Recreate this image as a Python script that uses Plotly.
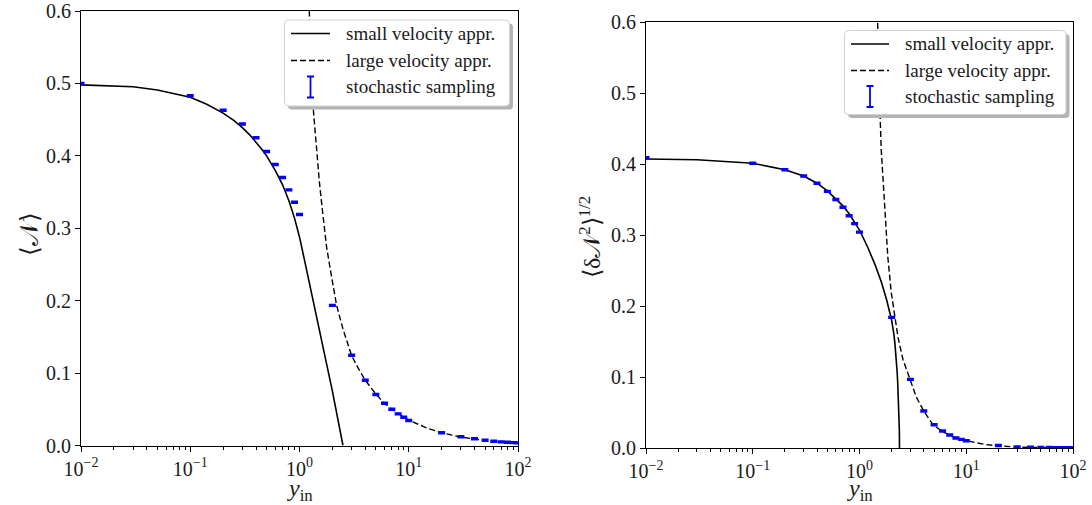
import plotly.graph_objects as go

W, H = 1092, 505

# ---------------- data ----------------
# left panel: <N>
small_x_L = [0.01, 0.02, 0.03, 0.05, 0.07, 0.1, 0.14, 0.2, 0.25, 0.3, 0.35, 0.4, 0.45, 0.5, 0.6, 0.7, 0.8, 0.9, 1.0,
             1.1, 1.2, 1.3, 1.4, 1.5, 1.6, 1.7, 1.8, 1.9, 2.0, 2.1, 2.2, 2.3, 2.4, 2.5]
small_y_L = [0.498, 0.497, 0.4955, 0.491, 0.4865, 0.481, 0.4715, 0.459, 0.449, 0.439, 0.429, 0.419, 0.4095, 0.400,
             0.380, 0.360, 0.338, 0.314, 0.288, 0.259, 0.233, 0.209, 0.186, 0.165, 0.145, 0.126, 0.108, 0.091,
             0.075, 0.059, 0.044, 0.0285, 0.0125, 0.0]

large_x_L = [1.17, 1.22, 1.27, 1.34, 1.42, 1.52, 1.62, 1.77, 1.95, 2.19, 2.5, 3.0, 3.5, 4.0, 5.0, 6.0, 7.0, 8.0,
             10.0, 15.0, 20.0, 30.0, 50.0, 70.0, 100.0]
large_y_L = [0.70, 0.60, 0.535, 0.463, 0.415, 0.364, 0.325, 0.274, 0.236, 0.193, 0.161, 0.124, 0.105, 0.090,
             0.071, 0.058, 0.050, 0.044, 0.035, 0.0235, 0.0175, 0.0117, 0.0070, 0.0050, 0.0035]

stoch_x = [0.01, 0.1, 0.2, 0.3, 0.4, 0.5, 0.6, 0.7, 0.8, 0.9, 1.0,
           2, 3, 4, 5, 6, 7, 8, 9, 10, 20, 30, 40, 50, 60, 70, 80, 90, 100]
stoch_y_L = [0.500, 0.483, 0.463, 0.444, 0.425, 0.406, 0.388, 0.370, 0.353, 0.336, 0.319,
             0.1935, 0.1246, 0.090, 0.0703, 0.0584, 0.050, 0.0437, 0.039, 0.0345,
             0.0175, 0.012, 0.0092, 0.0073, 0.006, 0.005, 0.0045, 0.004, 0.0036]
stoch_err_L = [0.001, 0.001, 0.001, 0.001, 0.001, 0.001, 0.001, 0.001, 0.001, 0.001, 0.001,
               0.001, 0.001, 0.001, 0.001, 0.001, 0.001, 0.001, 0.001, 0.001,
               0.001, 0.001, 0.001, 0.001, 0.001, 0.001, 0.001, 0.001, 0.001]

# right panel: <dN^2>^(1/2)
small_x_R = [0.01, 0.03, 0.1, 0.2, 0.3, 0.4, 0.5, 0.6, 0.7, 0.8, 0.9, 1.0, 1.2, 1.4, 1.6, 1.8, 2.0, 2.05, 2.1,
             2.15, 2.2, 2.25, 2.28, 2.3, 2.32, 2.34, 2.35, 2.36, 2.365, 2.37]
small_y_R = [0.407, 0.406, 0.401, 0.392, 0.383, 0.373, 0.362, 0.351, 0.341, 0.330, 0.318, 0.307, 0.282, 0.258,
             0.234, 0.208, 0.180, 0.171, 0.160, 0.146, 0.130, 0.108, 0.092, 0.080, 0.066, 0.050, 0.040, 0.027,
             0.016, 0.0]

large_x_R = [1.42, 1.47, 1.52, 1.56, 1.60, 1.71, 1.84, 1.98, 2.13, 2.3, 2.55, 3.0, 3.4, 4.0, 4.86, 6.0, 7.5, 10.0,
             15.0, 20.0, 30.0, 50.0, 100.0]
large_y_R = [0.70, 0.60, 0.52, 0.466, 0.419, 0.34, 0.27, 0.22, 0.185, 0.155, 0.125, 0.095, 0.072, 0.052, 0.033,
             0.023, 0.016, 0.0103, 0.005, 0.003, 0.0013, 0.0005, 0.0001]

stoch_y_R = [0.409, 0.401, 0.392, 0.383, 0.373, 0.3615, 0.350, 0.339, 0.327, 0.316, 0.304,
             0.184, 0.0966, 0.052, 0.0328, 0.0239, 0.0183, 0.014, 0.0122, 0.0103,
             0.0035, 0.0015, 0.001, 0.0008, 0.0006, 0.0005, 0.0005, 0.0004, 0.0004]
stoch_err_R = [0.001, 0.001, 0.001, 0.001, 0.001, 0.001, 0.001, 0.001, 0.001, 0.001, 0.001,
               0.001, 0.001, 0.001, 0.001, 0.001, 0.001, 0.001, 0.001, 0.001,
               0.001, 0.001, 0.001, 0.001, 0.001, 0.001, 0.001, 0.001, 0.001]

x_tickvals = [0.01, 0.1, 1, 10, 100]
x_ticktext = ["10<sup>−2</sup>", "10<sup>−1</sup>", "10<sup>0</sup>", "10<sup>1</sup>", "10<sup>2</sup>"]
legend_labels = ["small velocity appr.", "large velocity appr.", "stochastic sampling"]

# ---------------- styling ----------------
SERIF = "Liberation Serif"
TXT = "#1a1a1a"
BLUE = "#0000ff"
DASH = "6px,3px"

# panel geometry in pixels (left, right, top, bottom)
PL = (81, 518, 11, 445.5)
PR = (646, 1073, 22, 448)


def fx(px):
    return px / W


def fy(py):
    return 1 - py / H


minor_vals = [m * 10 ** e for e in range(-2, 2) for m in range(2, 10)]

fig = go.Figure()


def add_panel(xa, ya, sx, sy, lx, ly, ey, ee):
    fig.add_trace(go.Scatter(x=sx, y=sy, mode="lines", line=dict(color="black", width=1.6),
                             xaxis=xa, yaxis=ya, showlegend=False, hoverinfo="skip"))
    fig.add_trace(go.Scatter(x=lx, y=ly, mode="lines", line=dict(color="black", width=1.4, dash=DASH),
                             xaxis=xa, yaxis=ya, showlegend=False, hoverinfo="skip"))
    fig.add_trace(go.Scatter(x=stoch_x, y=ey, mode="markers",
                             marker=dict(size=1, color="rgba(0,0,0,0)"),
                             error_y=dict(type="data", array=ee, visible=True, color=BLUE,
                                          thickness=2, width=3.5),
                             xaxis=xa, yaxis=ya, showlegend=False, hoverinfo="skip"))


add_panel("x", "y", small_x_L, small_y_L, large_x_L, large_y_L, stoch_y_L, stoch_err_L)
add_panel("x2", "y2", small_x_R, small_y_R, large_x_R, large_y_R, stoch_y_R, stoch_err_R)


def xaxis(dom, anchor):
    return dict(type="log", range=[-2, 2], domain=dom, anchor=anchor, automargin=False,
                showline=True, linecolor="black", linewidth=1, mirror=True,
                ticks="outside", ticklen=5, tickwidth=1, tickcolor="black",
                tickmode="array", tickvals=x_tickvals, ticktext=x_ticktext,
                tickfont=dict(family=SERIF, size=20, color=TXT),
                showgrid=False, zeroline=False,
                minor=dict(tickmode="array", tickvals=minor_vals, ticks="outside",
                           ticklen=3, tickwidth=0.8, tickcolor="black", showgrid=False))


def yaxis(dom, anchor):
    return dict(range=[0, 0.6], domain=dom, anchor=anchor, automargin=False,
                showline=True, linecolor="black", linewidth=1, mirror=True,
                ticks="outside", ticklen=5, tickwidth=1, tickcolor="black",
                tick0=0, dtick=0.1, tickformat=".1f",
                tickfont=dict(family=SERIF, size=20, color=TXT),
                showgrid=False, zeroline=False)


fig.update_layout(
    width=W, height=H,
    margin=dict(l=0, r=0, t=0, b=0, autoexpand=False),
    paper_bgcolor="white", plot_bgcolor="white",
    showlegend=False,
    xaxis=xaxis([fx(PL[0]), fx(PL[1])], "y"),
    yaxis=yaxis([fy(PL[3]), fy(PL[2])], "x"),
    xaxis2=xaxis([fx(PR[0]), fx(PR[1])], "y2"),
    yaxis2=yaxis([fy(PR[3]), fy(PR[2])], "x2"),
)

shapes = []
annotations = []


def rrect(x0, y0, x1, y1, r):
    # rounded rectangle path in paper coordinates from pixel coords
    rx, ry = r / W, r / H
    X0, X1 = fx(x0), fx(x1)
    Y0, Y1 = fy(y0), fy(y1)  # Y0 top, Y1 bottom
    return (f"M {X0+rx},{Y0} L {X1-rx},{Y0} Q {X1},{Y0} {X1},{Y0-ry} "
            f"L {X1},{Y1+ry} Q {X1},{Y1} {X1-rx},{Y1} L {X0+rx},{Y1} "
            f"Q {X0},{Y1} {X0},{Y1+ry} L {X0},{Y0-ry} Q {X0},{Y0} {X0+rx},{Y0} Z")


def legend(bx0, by0, bx1, by1, lx0, lx1, rows, tx):
    shapes.append(dict(type="path", xref="paper", yref="paper",
                       path=rrect(bx0 + 3.5, by0 + 3.5, bx1 + 3.5, by1 + 3.5, 4),
                       fillcolor="#b4b4b4", line=dict(width=0), layer="above"))
    shapes.append(dict(type="path", xref="paper", yref="paper",
                       path=rrect(bx0, by0, bx1, by1, 4),
                       fillcolor="white", line=dict(color="#d0d0d0", width=1), layer="above"))
    shapes.append(dict(type="line", xref="paper", yref="paper",
                       x0=fx(lx0), x1=fx(lx1), y0=fy(rows[0]), y1=fy(rows[0]),
                       line=dict(color="black", width=1.6), layer="above"))
    shapes.append(dict(type="line", xref="paper", yref="paper",
                       x0=fx(lx0), x1=fx(lx1), y0=fy(rows[1]), y1=fy(rows[1]),
                       line=dict(color="black", width=1.4, dash=DASH), layer="above"))
    cx = (lx0 + lx1) / 2
    top, bot = rows[2] - 10.5, rows[2] + 10.5
    shapes.append(dict(type="line", xref="paper", yref="paper",
                       x0=fx(cx), x1=fx(cx), y0=fy(top), y1=fy(bot),
                       line=dict(color=BLUE, width=1.8), layer="above"))
    for yy in (top, bot):
        shapes.append(dict(type="line", xref="paper", yref="paper",
                           x0=fx(cx - 3.5), x1=fx(cx + 3.5), y0=fy(yy), y1=fy(yy),
                           line=dict(color=BLUE, width=2), layer="above"))
    for lab, ry in zip(legend_labels, rows):
        annotations.append(dict(text=lab, xref="paper", yref="paper", x=fx(tx), y=fy(ry),
                                xanchor="left", yanchor="middle", showarrow=False,
                                font=dict(family=SERIF, size=19, color=TXT)))


legend(284.5, 20, 509.5, 106, 291, 330, (33.5, 60.5, 87), 344)
legend(844.5, 30.5, 1066, 114.5, 851, 889, (44, 70.5, 96.5), 903)

# axis titles
XT = "<i>y</i><sub>in</sub>"
for px0, px1 in ((PL[0], PL[1]), (PR[0], PR[1])):
    annotations.append(dict(text=XT, xref="paper", yref="paper", x=fx((px0 + px1) / 2), y=fy(490),
                            xanchor="center", yanchor="middle", showarrow=False,
                            font=dict(family=SERIF, size=24, color=TXT)))
annotations.append(dict(text="⟨𝒩⟩", xref="paper", yref="paper", x=fx(30), y=fy(234),
                        xanchor="center", yanchor="middle", showarrow=False, textangle=-90,
                        font=dict(family=SERIF, size=25, color=TXT)))
annotations.append(dict(text="⟨δ𝒩<sup>2</sup>⟩<sup>1/2</sup>", xref="paper", yref="paper",
                        x=fx(590), y=fy(237),
                        xanchor="center", yanchor="middle", showarrow=False, textangle=-90,
                        font=dict(family=SERIF, size=24, color=TXT)))

fig.update_layout(shapes=shapes, annotations=annotations)

fig.write_html("out.html", config={"displayModeBar": False},
               post_script="document.body.style.margin='0px';document.body.style.overflow='hidden';")
